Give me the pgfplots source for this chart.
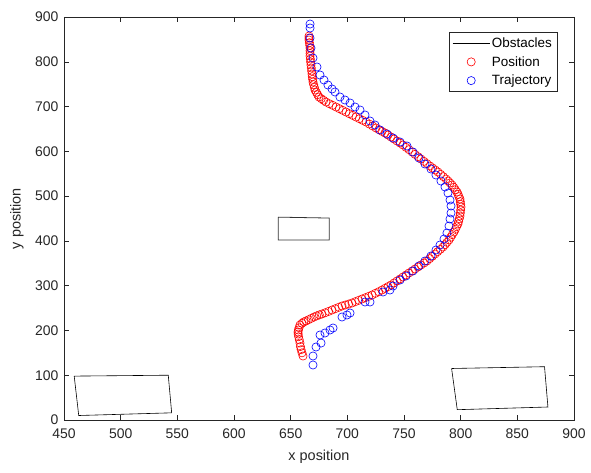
\documentclass[border=0pt]{standalone}
\usepackage{fontspec}
\setmainfont{Liberation Sans}
\usepackage{pgfplots}
\pgfplotsset{compat=1.18}
\definecolor{axgray}{RGB}{38,38,38}
\begin{document}
\begin{tikzpicture}
\begin{axis}[
  name=ax,
  scale only axis,
  width=510bp, height=403bp,
  xmin=450, xmax=900, ymin=0, ymax=900,
  xtick={450,500,...,900}, ytick={0,100,...,900},
  tick align=inside,
  major tick length=5bp,
  tick style={color=axgray, line width=0.5pt},
  axis line style={color=axgray, line width=0.5pt},
  /pgf/number format/assume math mode=true,
  /pgf/number format/1000 sep={},
  ticklabel style={font=\fontsize{14}{16}\selectfont, text=axgray},
  xticklabel style={yshift=-5bp},
  yticklabel style={xshift=-2bp},
  xlabel={x position}, ylabel={y position},
  every axis x label/.style={at={(axis description cs:0.5,-0.0918)}, anchor=center, font=\fontsize{14.5}{17}\selectfont, text=axgray},
  every axis y label/.style={at={(axis description cs:-0.0922,0.5)}, rotate=90, anchor=center, font=\fontsize{14.5}{17}\selectfont, text=axgray},
  legend style={at={(axis description cs:0.9667,0.962)}, anchor=north east, draw=axgray, line width=0.5pt,
     font=\fontsize{13.5}{15}\selectfont, inner xsep=3bp, inner ysep=3bp, row sep=3.5bp},
  legend cell align=left,
  clip=false,
]
\addplot[black, line width=0.6pt, legend image code/.code={\draw[black, line width=0.6pt] (0bp,0bp) -- (37bp,0bp);}] coordinates {
(459,98) (542,100) (545,16) (463,10) (459,98)};
\addlegendentry{Obstacles}
\addplot[black!80, line width=0.8pt, forget plot] coordinates {
(639,453) (684,451) (684,402) (639,402) (639,453)};
\addplot[black, line width=0.6pt, forget plot] coordinates {
(792,115) (874,119) (877,29) (797,23) (792,115)};

\addplot[only marks, mark=o, mark size=4.1bp, color=red, mark options={line width=0.6pt},
  legend image code/.code={\path (0bp,0bp) (37bp,0bp); \draw[red, line width=0.6pt] (18.5bp,0bp) circle (4.1bp);}] coordinates {
(660.9,142.9) (660,150) (659.2,157) (658.6,164) (658.2,171.9) (657.6,179) (657,186) (656.6,192)
(656.5,196.5) (656.8,201) (657.4,206) (658.2,212.1) (660,216) (661.6,219) (663.5,221.1) (665.8,224)
(668.2,227) (670.6,230) (673,232.5) (675.3,234.8) (677.6,236.7) (680.5,239.5) (683.5,242.5) (686.5,245.6)
(689.4,248.6) (692.4,251.6) (695.3,254.6) (698.2,256.8) (701.2,259) (704.1,261.3) (707.1,264.3) (710,267.2)
(713,270.2) (716,273.2) (718.9,276.1) (721.8,279.1) (724.7,282.8) (727.7,286.5) (730.6,290.3) (733.2,294)
(735.9,297.8) (738.5,301.5) (741.2,306) (743.8,310.4) (746.5,314.9) (749.1,319.4) (751.8,323.8) (754.4,328.3)
(757.1,332.8) (759.7,337.2) (762.4,341.7) (765,346.2) (767.7,350.6) (770.3,355.1) (772.7,360.3) (775,365.5)
(777.4,370.7) (779.7,375.9) (782.1,381.1) (784.4,386.3) (786.2,391.5) (787.9,396.8) (789.7,402) (791.2,408)
(792.6,413.9) (794.1,419.8) (795.3,425.8) (796.4,431.7) (797.6,437.7) (798.2,443.7) (798.8,449.6) (799.4,455.6)
(799.7,462.3) (800,468.9) (800.3,475.6) (800,481.6) (799.7,487.5) (799.4,493.5) (798.5,498.7) (797.7,503.9)
(796.8,509.1) (795.3,514.3) (793.9,519.6) (792.4,524.8) (790.6,529.3) (788.9,533.7) (787.1,538.2) (784.7,543.4)
(782.4,548.6) (780,553.8) (777.6,558.3) (775.3,562.7) (772.9,567.2) (770.3,572.4) (767.6,577.6) (765,582.8)
(762.4,588) (759.7,593.3) (757.1,598.5) (754.4,603.7) (751.8,608.9) (749.1,614.1) (746.5,618.6) (743.8,623)
(741.2,627.5) (738.5,632) (735.9,636.4) (733.2,640.9) (730.6,644.6) (727.9,648.4) (725.3,652.1) (722.3,656.6)
(719.4,661) (716.5,665.5) (713.5,669.2) (710.6,672.9) (707.6,676.6) (704.7,680.3) (701.7,684.1) (698.8,687.8)
(695.9,691.5) (692.9,695.3) (690,699) (687.1,702.7) (684.1,706.4) (681.2,710.1) (679.1,713.9) (677,717.6)
(675,721.3) (673.8,726.5) (672.7,731.7) (671.5,736.9) (670.9,742.9) (670.3,748.8) (669.7,754.8) (669.4,760.8)
(669.1,766.7) (668.8,772.7) (668.5,779.4) (668.2,786.1) (667.9,792.8) (667.6,799.5) (667.4,806.1) (667.1,812.8)
(667.1,818.8) (667.1,824.7) (667.1,830.7) (666.8,836.7) (666.5,842.6) (666.2,848.6) (666.2,853) (666.2,857.5)
};
\addlegendentry{Position}

\addplot[only marks, mark=o, mark size=4.1bp, color=blue, mark options={line width=0.6pt},
  legend image code/.code={\path (0bp,0bp) (37bp,0bp); \draw[blue, line width=0.6pt] (18.5bp,0bp) circle (4.1bp);}] coordinates {
(669.7,122.8) (669.7,142.9) (672.4,163) (676.8,171.9) (675.9,189.8) (680.3,194.3) (684.7,201) (687.4,205.4)
(695.3,230) (699.7,234.5) (702.4,238.9) (715.6,263.5) (720,263.5) (731.5,285.8) (737.6,290.3) (740.3,299.2)
(746.5,312.6) (751.8,321.6) (757.9,332.7) (763.2,343.9) (768.5,355.1) (773.8,366.2) (778.2,379.6) (781.8,390.8)
(785.3,404.2) (787.9,417.6) (789.7,433.2) (790.6,448.9) (791.5,462.3) (791.5,477.9) (790.6,491.3) (788.8,506.9)
(786.2,520.3) (782.6,533.7) (778.2,547.1) (773.8,560.5) (768.5,571.7) (763.2,585.1) (757.9,598.5) (752.6,611.9)
(746.5,620.8) (740.3,629.7) (735,638.7) (728.8,647.6) (724.4,658.8) (720,667.7) (715.6,681.1) (711.2,692.3)
(706.8,699) (702.4,707.9) (697.9,714.6) (693.5,721.3) (689.1,732.5) (686.5,739.2) (682.9,748.1) (679.4,759.3)
(675.9,770.4) (673.2,788.3) (669.7,808.4) (667.9,830.7) (667.1,853) (667.1,875.4) (667.1,884.3)
};
\addlegendentry{Trajectory}
\end{axis}
\path[use as bounding box] ([shift={(-64bp,-53bp)}]ax.south west) rectangle ([shift={(17bp,17bp)}]ax.north east);
\end{tikzpicture}
\end{document}
